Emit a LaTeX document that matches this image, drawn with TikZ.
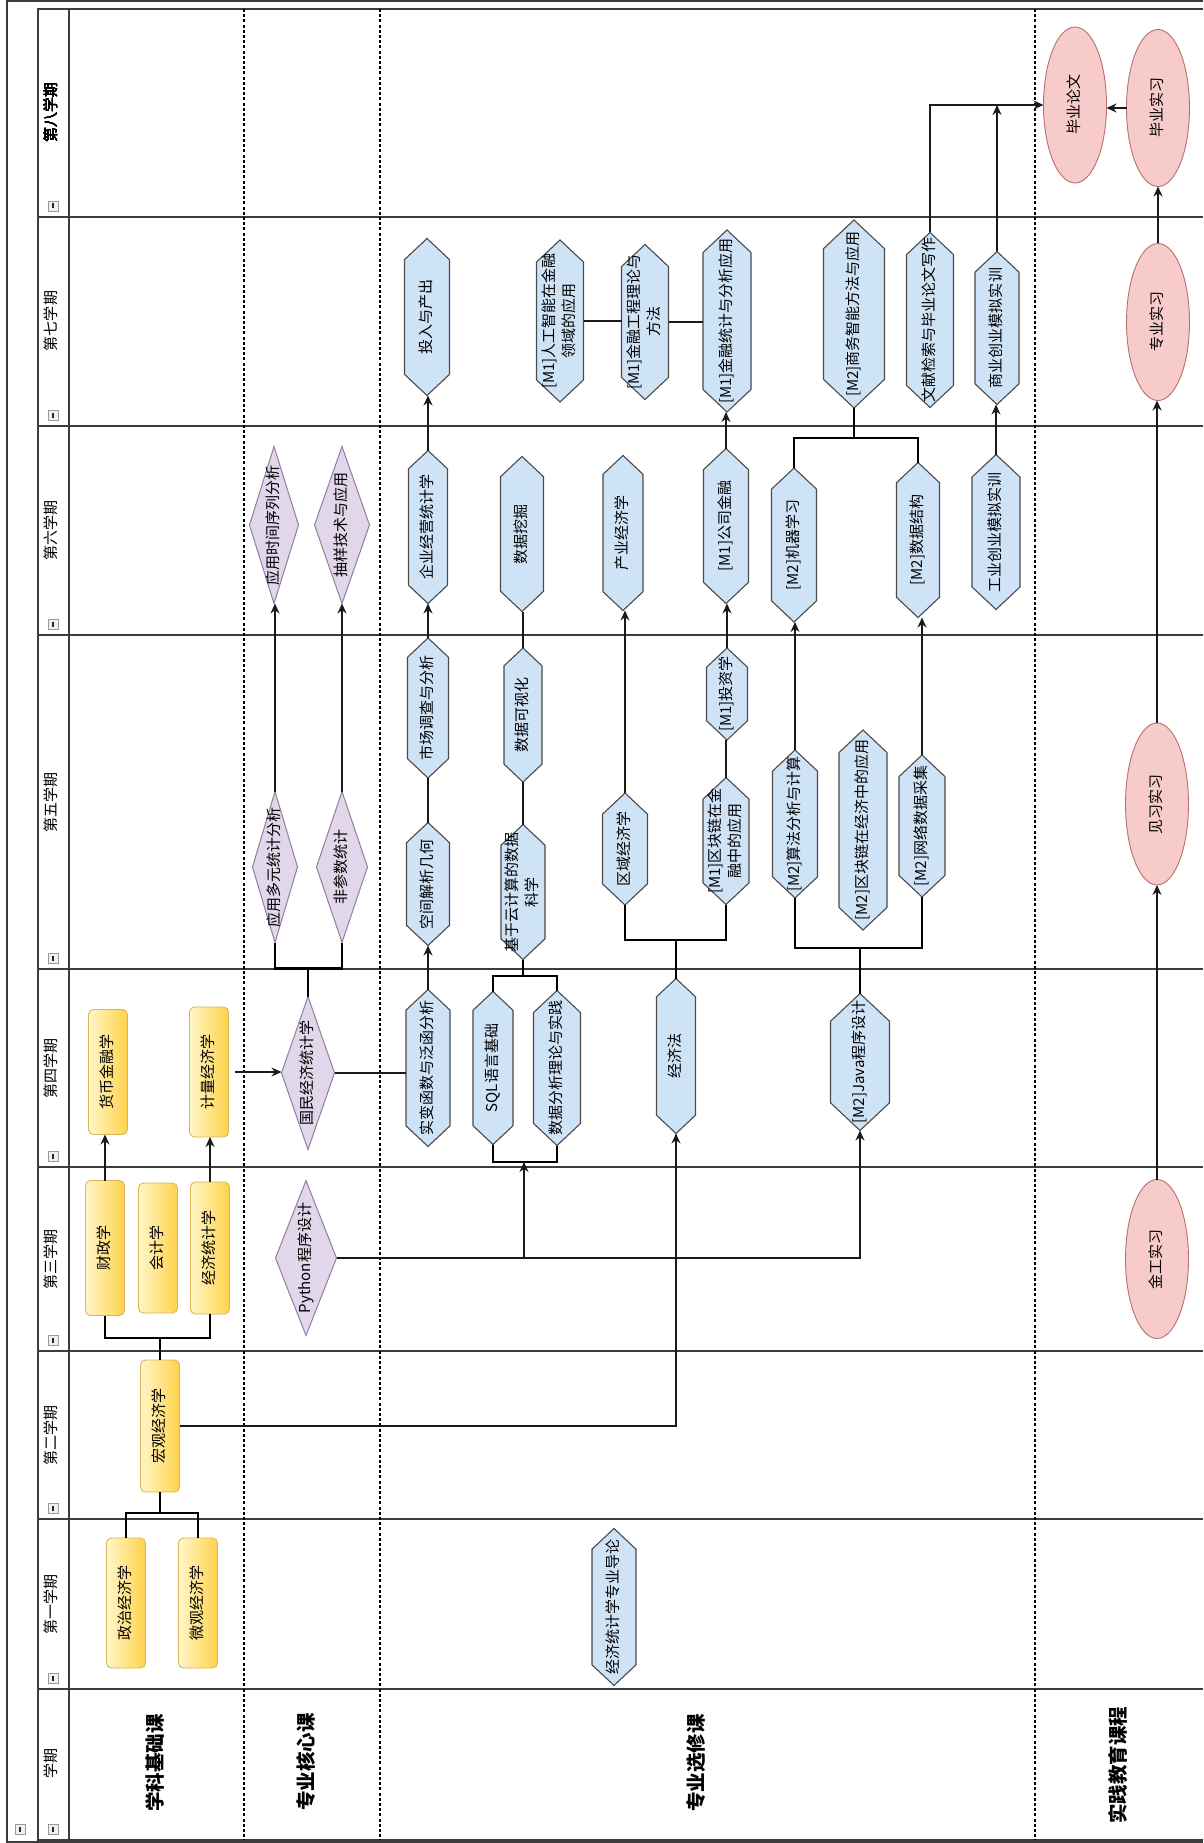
\documentclass[tikz,border=0pt]{standalone}
\usepackage{fontspec}
\setmainfont{Noto Sans CJK SC}
\usetikzlibrary{arrows.meta,calc,shapes.geometric}
\definecolor{hexF}{HTML}{CFE3F7}
\definecolor{hexD}{HTML}{4A4A4A}
\definecolor{dmF}{HTML}{E2D6EA}
\definecolor{dmD}{HTML}{8E7FA0}
\definecolor{yL}{HTML}{FFF6C8}
\definecolor{yR}{HTML}{FFD24A}
\definecolor{yD}{HTML}{D9B45A}
\definecolor{elF}{HTML}{F7CBC9}
\definecolor{elD}{HTML}{B8706C}
\definecolor{lnC}{HTML}{1A1A1A}
\definecolor{frC}{HTML}{3C3C3C}
\newcommand\vtx[1]{\rotatebox{90}{\makebox[0pt]{\begin{tabular}{@{}c@{}}#1\end{tabular}}}}
\tikzset{
  vb/.style={rectangle, inner sep=0pt, outer sep=0pt, font=\fontsize{15}{20}\selectfont},
  hexsty/.style={fill=hexF, draw=hexD, line width=1.1pt},
  dmsty/.style={fill=dmF, draw=dmD, line width=1pt},
  ybox/.style={vb, rounded corners=5pt, draw=yD, line width=0.9pt, left color=yL, right color=yR},
  elbox/.style={vb, ellipse, draw=elD, fill=elF, line width=0.9pt},
  arr/.style={-{Stealth[length=10pt,width=9pt]}, line width=1.1pt, draw=lnC},
  ln/.style={line width=1.1pt, draw=lnC},
  br/.style={line width=2.6pt, draw=black},
  frame/.style={line width=1.3pt, draw=frC},
  dsh/.style={line width=1.3pt, draw=black, dash pattern=on 3pt off 2.2pt},
  slab/.style={inner sep=0pt, font=\fontsize{15}{18}\selectfont},
  clab/.style={inner sep=0pt, font=\fontsize{19.5}{22}\selectfont\bfseries},
  icon/.style={draw=gray!80, fill=gray!12, line width=0.7pt}
}
\newcommand\hexn[6]{%
  \filldraw[hexsty] ({#2},{#3-#5/2}) -- ({#2+#4/2},{#3-#5/2+0.47*#4}) -- ({#2+#4/2},{#3+#5/2-0.47*#4}) -- ({#2},{#3+#5/2}) -- ({#2-#4/2},{#3+#5/2-0.47*#4}) -- ({#2-#4/2},{#3-#5/2+0.47*#4}) -- cycle;
  \node[vb, minimum width=#4, minimum height=#5] (#1) at (#2,#3) {\vtx{#6}};}
\newcommand\dmn[6]{%
  \filldraw[dmsty] ({#2},{#3-#5/2}) -- ({#2+#4/2},{#3}) -- ({#2},{#3+#5/2}) -- ({#2-#4/2},{#3}) -- cycle;
  \node[vb, minimum width=#4, minimum height=#5] (#1) at (#2,#3) {\vtx{#6}};}
\newcommand\tgl[2]{%
  \draw[icon] ({#1-5},{#2-5}) rectangle ({#1+5},{#2+5});
  \draw[gray!30!black, line width=1.2pt] (#1,{#2-2.5}) -- (#1,{#2+2.5});}
\begin{document}
\begin{tikzpicture}[x=1pt,y=-1pt]
\useasboundingbox (0,0) rectangle (1203,1843);
\fill[white] (0,0) rectangle (1203,1843);
% frame
\draw[frame] (1203,1) -- (7,1) -- (7,1842) -- (1203,1842);
\draw[frame] (1203,9) -- (38,9) -- (38,1840) -- (1203,1840);
\draw[frame] (69,9) -- (69,1840);
\foreach \y in {217,426,635,969,1167,1351,1519,1689} \draw[frame] (38,\y) -- (1203,\y);
\foreach \x in {244,380,1035} \draw[dsh] (\x,9) -- (\x,1840);
% icons
\foreach \y in {206,415,624,958,1156,1340,1508,1678,1829} \tgl{53}{\y}
\tgl{20}{1829}
% semester labels
\node[slab] (s8) at (53,113) {\vtx{第八学期}};
\node[slab] (s7) at (53,321) {\vtx{第七学期}};
\node[slab] (s6) at (53,530) {\vtx{第六学期}};
\node[slab] (s5) at (53,802) {\vtx{第五学期}};
\node[slab] (s4) at (53,1068) {\vtx{第四学期}};
\node[slab] (s3) at (53,1259) {\vtx{第三学期}};
\node[slab] (s2) at (53,1435) {\vtx{第二学期}};
\node[slab] (s1) at (53,1604) {\vtx{第一学期}};
\node[slab] (s0) at (53,1763) {\vtx{学期}};
% category labels
\node[clab] (c1) at (157,1763) {\vtx{学科基础课}};
\node[clab] (c2) at (308,1762) {\vtx{专业核心课}};
\node[clab] (c3) at (698,1763) {\vtx{专业选修课}};
\node[clab] (c4) at (1120,1765) {\vtx{实践教育课程}};
% column 1
\node[ybox, minimum width=39, minimum height=130] (zz) at (126,1603) {\vtx{政治经济学}};
\node[ybox, minimum width=39, minimum height=130] (wg) at (198,1603) {\vtx{微观经济学}};
\node[ybox, minimum width=39, minimum height=132] (hg) at (160,1426) {\vtx{宏观经济学}};
\node[ybox, minimum width=39, minimum height=135] (cz) at (105,1248) {\vtx{财政学}};
\node[ybox, minimum width=39, minimum height=130] (kj) at (158,1248) {\vtx{会计学}};
\node[ybox, minimum width=39, minimum height=132] (jt) at (210,1248) {\vtx{经济统计学}};
\node[ybox, minimum width=39, minimum height=125] (hb) at (108,1072) {\vtx{货币金融学}};
\node[ybox, minimum width=39, minimum height=130] (jl) at (209,1072) {\vtx{计量经济学}};
% column 2
\dmn{gm}{308}{1073}{53}{153}{国民经济统计学}
\dmn{dy}{275}{867}{45}{151}{应用多元统计分析}
\dmn{fc}{342}{867}{51}{151}{非参数统计}
\dmn{sx}{274}{525}{49}{157}{应用时间序列分析}
\dmn{cy}{342}{525}{55}{157}{抽样技术与应用}
\dmn{py}{306}{1258}{61}{155}{Python程序设计}
% column 3
\hexn{sb}{428}{1068}{44}{157}{实变函数与泛函分析}
\hexn{sql}{493}{1068}{40}{153}{SQL语言基础}
\hexn{sjfx}{557}{1068}{47}{155}{数据分析理论与实践}
\hexn{jjf}{676}{1056}{39}{155}{经济法}
\hexn{java}{860}{1062}{59}{137}{[M2]Java程序设计}
\hexn{kj2}{428}{884}{43}{123}{空间解析几何}
\hexn{yjs}{523}{892}{44}{135}{基于云计算的数据\\科学}
\hexn{qy}{625}{849}{45}{112}{区域经济学}
\hexn{qkl}{726}{841}{46}{127}{[M1]区块链在金\\融中的应用}
\hexn{sf}{795}{824}{45}{148}{[M2]算法分析与计算}
\hexn{qkj}{863}{830}{48}{200}{[M2]区块链在经济中的应用}
\hexn{wl}{922}{826}{46}{142}{[M2]网络数据采集}
\hexn{sc}{428}{708}{41}{140}{市场调查与分析}
\hexn{ksh}{523}{715}{38}{134}{数据可视化}
\hexn{tz}{727}{694}{41}{92}{[M1]投资学}
\hexn{qy2}{428}{527}{39}{153}{企业经营统计学}
\hexn{wj}{522}{534}{43}{155}{数据挖掘}
\hexn{cyjj}{623}{533}{40}{155}{产业经济学}
\hexn{gs}{726}{526}{45}{155}{[M1]公司金融}
\hexn{jq}{794}{545}{45}{154}{[M2]机器学习}
\hexn{jg}{918}{540}{43}{155}{[M2]数据结构}
\hexn{gy}{996}{532}{48}{155}{工业创业模拟实训}
\hexn{tr}{427}{317}{45}{157}{投入与产出}
\hexn{rg}{560}{321}{47}{162}{[M1]人工智能在金融\\领域的应用}
\hexn{jr}{645}{322}{47}{155}{[M1]金融工程理论与\\方法}
\hexn{jt2}{727}{321}{48}{182}{[M1]金融统计与分析应用}
\hexn{sw}{854}{314}{61}{188}{[M2]商务智能方法与应用}
\hexn{wx}{930}{320}{47}{175}{文献检索与毕业论文写作}
\hexn{sy}{997}{328}{44}{153}{商业创业模拟实训}
\hexn{dl}{614}{1607}{44}{157}{经济统计学专业导论}
% column 4
\node[elbox, minimum width=63, minimum height=159] (jg2) at (1157,1259) {\vtx{金工实习}};
\node[elbox, minimum width=63, minimum height=162] (jx) at (1157,804) {\vtx{见习实习}};
\node[elbox, minimum width=63, minimum height=157] (zy) at (1158,322) {\vtx{专业实习}};
\node[elbox, minimum width=63, minimum height=157] (bs) at (1158,108) {\vtx{毕业实习}};
\node[elbox, minimum width=63, minimum height=156] (bl) at (1075,105) {\vtx{毕业论文}};
% junction coordinates
\coordinate (sqlb) at (524,1162);
\coordinate (sqlt) at (523,976);
\coordinate (jjfb) at (676,940);
\coordinate (javab) at (860,948);
\coordinate (swb) at (854,438);
% bracket connectors
\draw[br] (zz.north) |- ($(hg.south)+(0,21)$) -| (wg.north);
\draw[br] (hg.south) -- ++(0,21);
\draw[br] (cz.south) |- ($(hg.north)+(0,-22)$) -| (jt.south);
\draw[br] (hg.north) -- ++(0,-22);
\draw[br] (dy.south) |- ($(gm.north)+(0,-28)$) -| (fc.south);
\draw[br] (gm.north) -- ++(0,-28);
\draw[br] (sql.south) |- (sqlb) -| (sjfx.south);
\draw[br] (sql.north) |- (sqlt) -| (sjfx.north);
\draw[br] (sqlt) -- (yjs.south);
\draw[br] (qy.south) |- (jjfb) -| (qkl.south);
\draw[br] (jjf.north) -- (jjfb);
\draw[br] (sf.south) |- (javab) -| (wl.south);
\draw[br] (java.north) -- (javab);
\draw[br] (jq.north) |- (swb) -| (jg.north);
\draw[br] (swb) -- (sw.south);
% arrows and lines
\draw[arr] (cz.north) -- (cz.north |- hb.south);
\draw[arr] (jt.north) -- (jt.north |- jl.south);
\draw[arr, shorten <=6pt] (jl.east) -- (jl.east -| gm.west);
\draw[ln] (gm.east) -- (gm.east -| sb.west);
\draw[arr] (dy.north) -- (dy.north |- sx.south);
\draw[arr] (fc.north) -- (fc.north |- cy.south);
\draw[arr] (py.east) -| (sqlb);
\draw[arr] (py.east) -| (java.south);
\draw[arr] (hg.east) -| (jjf.south);
\draw[arr] (sb.north) -- (kj2.south);
\draw[ln] (kj2.north) -- (sc.south);
\draw[arr] (sc.north) -- (qy2.south);
\draw[arr] (qy2.north) -- (qy2.north |- tr.south);
\draw[ln] (yjs.north) -- (ksh.south);
\draw[ln] (ksh.north) -- (ksh.north |- wj.south);
\draw[arr] (qy.north) -- (qy.north |- cyjj.south);
\draw[ln] (qkl.north) -- (qkl.north |- tz.south);
\draw[arr] (tz.north) -- (tz.north |- gs.south);
\draw[arr] (gs.north) -- (gs.north |- jt2.south);
\draw[ln] (rg.east) -- (rg.east -| jr.west);
\draw[ln] (jr.east) -- (jr.east -| jt2.west);
\draw[arr] (sf.north) -- (sf.north |- jq.south);
\draw[arr] (wl.north) -- (wl.north |- jg.south);
\draw[arr] (gy.north) -- (gy.north |- sy.south);
\draw[arr] (wx.north) |- (bl.west);
\draw[arr] (sy.north) -- (sy.north |- bl.west);
\draw[arr] (jg2.north) -- (jx.south);
\draw[arr] (jx.north) -- (jx.north |- zy.south);
\draw[arr] (zy.north) -- (bs.south);
\draw[arr] (bs.west) -- (bs.west -| bl.east);
\end{tikzpicture}
\end{document}
